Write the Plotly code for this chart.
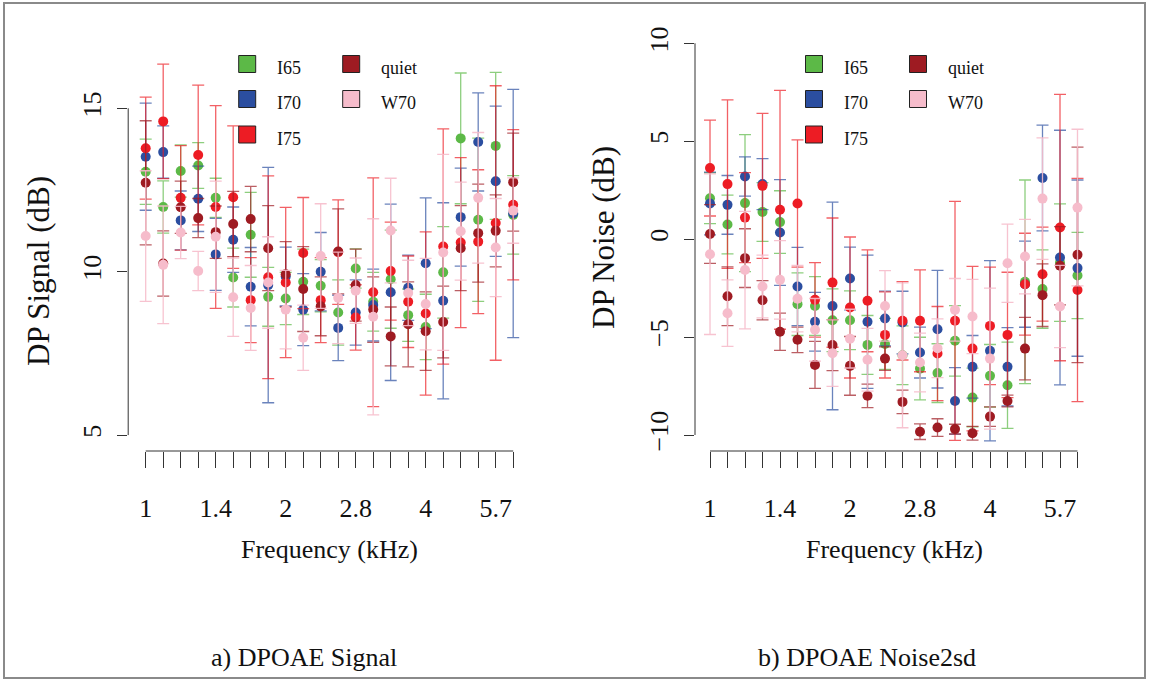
import plotly.graph_objects as go

W, H = 1149, 681

# ---------------- data ----------------
freq_idx = list(range(22))
tick_text = ['1', '', '', '', '1.4', '', '', '', '2', '', '', '', '2.8', '', '', '', '4', '', '', '', '5.7', '']

series_names = ['I65', 'I70', 'I75', 'quiet', 'W70']

# Panel a) DP Signal (dB): means and symmetric error half-widths
sig_I65 = [13.06, 11.98, 13.08, 13.25, 12.26, 9.82, 11.13, 9.23, 9.18, 9.69, 9.57, 8.75, 10.10, 9.08, 9.77, 8.67, 8.31, 9.98, 14.08, 11.59, 13.85, 11.74]
sig_I70 = [13.52, 13.66, 11.57, 12.23, 10.53, 10.98, 9.54, 9.59, 9.85, 8.84, 10.00, 8.28, 8.75, 8.98, 9.37, 9.51, 10.26, 9.11, 11.67, 13.97, 12.77, 11.78]
sig_I75 = [13.78, 14.60, 12.26, 13.57, 11.98, 12.28, 9.13, 9.83, 9.67, 10.57, 9.13, 10.60, 8.60, 9.37, 10.02, 9.08, 8.72, 10.77, 10.89, 10.92, 11.49, 12.05]
sig_quiet = [12.72, 10.25, 11.97, 11.64, 11.21, 11.46, 11.61, 10.72, 9.92, 9.47, 8.94, 10.62, 9.59, 8.84, 8.02, 8.39, 8.18, 8.46, 10.72, 11.18, 11.25, 12.74]
sig_W70 = [11.09, 10.21, 11.20, 10.02, 11.07, 9.22, 8.89, 9.67, 8.84, 7.98, 10.48, 9.20, 9.42, 8.62, 11.26, 9.35, 9.01, 10.59, 11.24, 12.26, 10.74, 11.87]

sig_I65_err = [1.0, 0.8, 0.8, 0.7, 0.6, 0.9, 1.3, 0.9, 0.8, 1.0, 0.8, 1.0, 0.6, 0.9, 1.5, 0.8, 1.0, 1.4, 2.0, 2.5, 2.25, 1.2]
sig_I70_err = [1.64, 0.8, 0.9, 1.0, 1.1, 1.0, 1.2, 3.6, 0.9, 1.1, 1.2, 1.0, 1.0, 1.1, 2.7, 1.0, 2.0, 3.0, 1.5, 1.5, 2.3, 3.8]
sig_I75_err = [1.56, 1.75, 1.6, 2.14, 3.1, 2.18, 1.3, 3.1, 2.3, 1.7, 1.3, 1.6, 1.0, 3.5, 1.5, 1.4, 2.5, 3.6, 2.6, 2.2, 4.2, 2.3]
sig_quiet_err = [1.9, 1.0, 0.8, 0.6, 0.8, 1.0, 1.0, 1.3, 1.0, 1.3, 0.9, 1.3, 1.1, 1.0, 0.9, 1.3, 1.2, 1.1, 1.3, 1.5, 1.1, 1.5]
sig_W70_err = [2.0, 1.8, 0.8, 0.6, 1.7, 1.2, 1.3, 1.4, 1.2, 1.0, 1.6, 1.4, 1.0, 3.0, 1.6, 1.0, 1.4, 3.0, 1.5, 2.0, 1.5, 1.0]

# Panel b) DP Noise (dB)
noi_I65 = [2.09, 0.75, 1.84, 1.39, 0.87, -3.32, -3.41, -4.14, -4.14, -5.40, -5.35, -5.93, -6.61, -6.84, -5.19, -8.09, -6.98, -7.46, -2.18, -2.55, -1.20, -1.86]
noi_I70 = [1.82, 1.75, 3.20, 2.81, 0.34, -2.42, -4.22, -3.41, -2.01, -4.22, -4.05, -4.26, -5.79, -4.60, -8.26, -6.52, -5.70, -6.52, -2.30, 3.12, -0.94, -1.48]
noi_I75 = [3.63, 2.81, 1.10, 2.72, 1.50, 1.82, -3.10, -2.22, -3.49, -3.15, -4.89, -4.17, -4.17, -5.84, -4.17, -5.59, -4.43, -4.89, -2.30, -1.79, 0.59, -2.60]
noi_quiet = [0.26, -2.92, -0.97, -3.12, -4.73, -5.14, -6.42, -5.41, -6.47, -8.00, -6.10, -8.31, -9.83, -9.62, -9.70, -9.91, -9.06, -8.26, -5.59, -2.86, -1.36, -0.80]
noi_W70 = [-0.77, -3.78, -1.58, -2.42, -2.08, -3.04, -4.63, -5.82, -5.08, -6.16, -3.41, -5.93, -6.30, -5.57, -3.61, -3.95, -6.10, -1.23, -0.89, 2.07, -3.44, 1.61]

noi_I65_err = [1.3, 1.5, 3.5, 1.5, 1.6, 1.6, 1.5, 1.6, 1.5, 1.5, 1.3, 1.5, 1.6, 1.5, 1.8, 1.5, 1.6, 2.2, 5.2, 2.0, 3.0, 2.2]
noi_I70_err = [1.6, 1.5, 1.0, 1.3, 2.7, 2.0, 1.5, 5.3, 1.6, 3.4, 1.4, 1.6, 1.3, 3.0, 1.7, 1.6, 4.6, 2.0, 2.2, 2.7, 6.5, 4.5]
noi_I75_err = [2.45, 4.3, 2.3, 3.7, 6.1, 3.25, 1.9, 3.3, 3.6, 2.6, 2.2, 2.0, 2.6, 2.4, 6.1, 4.2, 3.0, 3.2, 2.6, 2.4, 6.8, 5.7]
noi_quiet_err = [1.5, 1.5, 1.5, 1.0, 0.95, 0.65, 1.2, 1.3, 1.5, 0.6, 0.6, 0.6, 0.4, 0.45, 0.25, 0.35, 0.5, 0.3, 1.6, 1.6, 2.0, 5.5]
noi_W70_err = [4.1, 1.7, 3.0, 1.6, 2.0, 1.7, 1.6, 1.7, 1.5, 1.6, 1.8, 3.7, 1.5, 1.5, 1.6, 1.9, 3.6, 2.0, 1.9, 3.1, 2.1, 4.0]

# ---------------- styles ----------------
solid = ['#5CB947', '#2B4EA0', '#ED1C24', '#9E1B22', '#F6BCCB']
bar_rgba = ['rgba(92,185,71,0.7)', 'rgba(43,78,160,0.7)', 'rgba(237,28,36,0.7)',
            'rgba(158,27,34,0.7)', 'rgba(246,188,203,0.9)']
FONT = 'Liberation Serif, Times New Roman, serif'
TXT = '#111111'
AX = '#333333'

def px(x):
    return x / W

def py(y):
    return 1 - y / H

panels = [
    dict(xa='x', ya='y', means=[sig_I65, sig_I70, sig_I75, sig_quiet, sig_W70],
         errs=[sig_I65_err, sig_I70_err, sig_I75_err, sig_quiet_err, sig_W70_err]),
    dict(xa='x2', ya='y2', means=[noi_I65, noi_I70, noi_I75, noi_quiet, noi_W70],
         errs=[noi_I65_err, noi_I70_err, noi_I75_err, noi_quiet_err, noi_W70_err]),
]

fig = go.Figure()
for p in panels:
    for i, name in enumerate(series_names):
        fig.add_trace(go.Scatter(
            x=freq_idx, y=p['means'][i], mode='markers', name=name,
            xaxis=p['xa'], yaxis=p['ya'], showlegend=False,
            marker=dict(color=solid[i], size=10, line=dict(width=0)),
            error_y=dict(type='data', array=p['errs'][i], symmetric=True,
                         color=bar_rgba[i], thickness=1.3, width=6),
        ))

# axis pixel geometry
left_dom = [128.2, 530.7]
right_dom = [695.0, 1092.5]
ydom = [py(451.0), py(27.6)]

xcommon = dict(tickvals=freq_idx, ticktext=tick_text, ticks='outside', ticklen=16,
               tickwidth=1, tickcolor=AX, showgrid=False, zeroline=False, showline=False,
               tickfont=dict(family=FONT, size=26, color=TXT), ticklabelstandoff=18)
ycommon = dict(ticks='outside', ticklen=10, tickwidth=1, tickcolor=AX, showgrid=False,
               zeroline=False, showline=False, tickangle=-90,
               tickfont=dict(family=FONT, size=26, color=TXT), ticklabelstandoff=6)

fig.update_layout(
    width=W, height=H, margin=dict(l=0, r=0, t=0, b=0),
    paper_bgcolor='white', plot_bgcolor='white', showlegend=False,
    xaxis=dict(domain=[px(left_dom[0]), px(left_dom[1])], range=[-1, 22], anchor='y', **xcommon),
    yaxis=dict(domain=ydom, range=[4.513, 17.47], anchor='x', tickvals=[5, 10, 15], **ycommon),
    xaxis2=dict(domain=[px(right_dom[0]), px(right_dom[1])], range=[-0.857, 21.857], anchor='y2', **xcommon),
    yaxis2=dict(domain=ydom, range=[-10.817, 10.80], anchor='x2', tickvals=[-10, -5, 0, 5, 10], **ycommon),
)

shapes = []
# R-style axis lines spanning first..last tick
shapes.append(dict(type='line', xref='x domain', yref='y', x0=0, x1=0, y0=5, y1=15, line=dict(color=AX, width=1)))
shapes.append(dict(type='line', xref='x', yref='y domain', x0=0, x1=21, y0=0, y1=0, line=dict(color=AX, width=1)))
shapes.append(dict(type='line', xref='x2 domain', yref='y2', x0=0, x1=0, y0=-10, y1=10, line=dict(color=AX, width=1)))
shapes.append(dict(type='line', xref='x2', yref='y2 domain', x0=0, x1=21, y0=0, y1=0, line=dict(color=AX, width=1)))
# outer frame
shapes.append(dict(type='rect', xref='paper', yref='paper', x0=px(4), x1=px(1145), y0=py(678), y1=py(3),
                   line=dict(color='#8a8a8a', width=2)))

annotations = []
# legends drawn as keys
legend_rows = [64, 99, 134.5]
legend_layout = [(0, 0, 0), (1, 0, 1), (2, 0, 2), (3, 1, 0), (4, 1, 1)]  # (series, col, row)
for axis_left in (left_dom[0], right_dom[0]):
    for si, col, row in legend_layout:
        cx = axis_left + (119 if col == 0 else 223)
        cy = legend_rows[row]
        shapes.append(dict(type='rect', xref='paper', yref='paper',
                           x0=px(cx - 8.5), x1=px(cx + 8.5), y0=py(cy + 8.5), y1=py(cy - 8.5),
                           fillcolor=solid[si], line=dict(color='#222222', width=1)))
        annotations.append(dict(xref='paper', yref='paper', x=px(cx + 28), y=py(cy + 4),
                                text=series_names[si], showarrow=False, xanchor='left', yanchor='middle',
                                font=dict(family=FONT, size=18, color=TXT)))

def label(x, y, text, size, angle=0):
    return dict(xref='paper', yref='paper', x=px(x), y=py(y), text=text, textangle=angle,
                showarrow=False, xanchor='center', yanchor='middle',
                font=dict(family=FONT, size=size, color=TXT))

# axis titles and captions
annotations += [
    label(38, 271, 'DP Signal (dB)', 31, -90),
    label(603, 238, 'DP Noise (dB)', 31, -90),
    label(329.5, 549, 'Frequency (kHz)', 26),
    label(894, 549, 'Frequency (kHz)', 26),
    label(304, 657, 'a) DPOAE Signal', 26),
    label(867, 657, 'b) DPOAE Noise2sd', 26),
]

fig.update_layout(shapes=shapes, annotations=annotations)
fig.write_html('out.html')
